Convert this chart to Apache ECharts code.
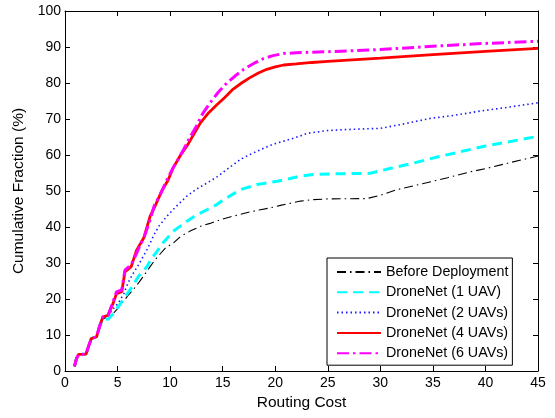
<!DOCTYPE html>
<html>
<head>
<meta charset="utf-8">
<script src="https://cdn.jsdelivr.net/npm/echarts@6/dist/echarts.min.js"></script>
<style>
  html, body { margin: 0; padding: 0; background: #fff; }
  #chart { width: 555px; height: 418px; }
</style>
</head>
<body>
<div id="chart"></div>
<script>
// legend names
var seriesNames = ['Before Deployment', 'DroneNet (1 UAV)', 'DroneNet (2 UAVs)', 'DroneNet (4 UAVs)', 'DroneNet (6 UAVs)'];

// [routing cost, cumulative fraction %]
var beforeData = [[0.9,1.3],[1.1,3.5],[1.3,4.6],[2.0,4.7],[2.2,6.5],[2.5,9],[3.0,9.5],[3.3,12.5],[3.6,14.5],
  [4.3,15.1],[4.9,17],[5.55,19.3],[6.0,21],[6.5,22.6],[7,24.5],[7.46,26.3],[8.1,29],[8.6,31],[9.05,32.5],
  [9.6,34.3],[10.3,35.5],[11,37.4],[12,39],[12.9,40.2],[13.8,41],[14.8,42],[15.7,42.8],[16.7,43.5],
  [17.6,44.2],[18.6,44.8],[19.5,45.3],[20.5,46],[22.4,47.2],[23.6,47.6],[25,47.8],[28.7,47.9],[30,48.8],
  [31.6,50.4],[34,52],[36.4,53.7],[38.5,55.3],[40,56.2],[42.5,58],[45,59.7]];

var uav1Data = [[0.9,1.3],[1.1,3.5],[1.3,4.6],[2.0,4.7],[2.2,6.5],[2.5,9],[3.0,9.5],[3.3,12.5],[3.6,14.5],
  [4.1,14.4],[4.6,16],[5.2,18.4],[5.7,20.5],[6.2,22.6],[7,26.3],[7.8,29],[8.25,31.4],[8.7,33],[9.3,35.5],
  [10.3,38.8],[11.6,41.6],[12.5,43.3],[13.5,44.8],[14.3,46],[15.1,47.6],[15.9,49],[16.7,50.4],[18.3,51.8],
  [20.2,52.7],[22.4,54.1],[23.6,54.6],[26,54.8],[29,54.9],[31,56.3],[33.2,57.8],[35.5,59.5],[37.9,61.1],
  [40,62.5],[42.5,63.8],[45,65.2]];

var uav2Data = [[0.9,1.3],[1.1,3.5],[1.3,4.6],[2.0,4.7],[2.2,6.5],[2.5,9],[3.0,9.5],[3.3,12.5],[3.6,15],
  [4.1,15.5],[4.8,18],[5.1,19],[5.6,21.5],[6,24.5],[6.4,26.7],[7,29.5],[7.8,33.7],[8.5,38],[9.0,40.5],
  [9.7,43],[10.5,45.5],[11.6,48.6],[12.5,50.5],[13.5,52.2],[14.5,54],[15.4,56],[16.7,58.8],[17.5,60],
  [18.3,61.1],[19.8,63],[21,64],[22.4,65.3],[23,66],[25,66.8],[27,67.1],[30,67.4],[32,68.5],[34.8,70.2],
  [37,71],[39.5,72.2],[42,73.2],[45,74.5]];

var uav4Data = [[0.9,1.3],[1.1,3.5],[1.3,4.6],[2.0,4.7],[2.2,6.5],[2.5,9],[3.0,9.5],[3.3,12.5],[3.6,15],
  [4.1,15.5],[4.6,19],[4.9,21.5],[5.4,22],[5.7,27.5],[6.3,29],[6.8,33.5],[7.5,37],[8.1,43],[8.6,46],
  [9.2,50],[9.8,53],[10.3,56.5],[11,60],[11.6,62.5],[12.3,66],[12.9,69],[13.6,71.5],[14.4,73.8],[15.2,76],
  [16,78.3],[16.8,80],[17.6,81.5],[18.4,82.8],[19.2,83.8],[20,84.5],[20.8,85],[22,85.3],[23.5,85.7],
  [25,86],[30,86.9],[35,87.9],[40,88.8],[45,89.6]];

var uav6Data = [[0.9,1.3],[1.1,3.5],[1.3,4.6],[2.0,4.7],[2.2,6.5],[2.5,9],[3.0,9.5],[3.3,12.5],[3.6,15],
  [4.1,15.5],[4.6,19.5],[4.9,22],[5.4,22.5],[5.7,28],[6.3,29.5],[6.7,32],[7.0,34],[7.5,37],[8.1,42],
  [8.5,46],[9,48.6],[9.6,52.5],[10.2,56],[10.8,59],[11.3,61.6],[11.9,65],[12.5,68],[13.1,71.5],[13.8,74.5],
  [14.6,77.5],[15.4,80],[16.2,82],[17,83.8],[18,85.5],[18.9,86.8],[19.8,87.6],[20.8,88.2],[22,88.4],
  [25,88.7],[30,89.3],[35,90.2],[40,91],[45,91.6]];

var seriesData = [beforeData, uav1Data, uav2Data, uav4Data, uav6Data];
var seriesColors = ['#000000', '#00ffff', '#1a1aff', '#ff0000', '#ff00ff'];
var seriesWidths = [1.1, 3, 1.6, 2.8, 3];
var seriesDash = [[9, 4, 1.5, 4], [10, 6], [1.5, 3], 'solid', [12, 4, 2.5, 4]];

var FONT = 'Liberation Sans';

var chart = echarts.init(document.getElementById('chart'), null, { renderer: 'canvas' });

var series = [];
for (var i = 0; i < seriesNames.length; i++) {
  series.push({
    name: seriesNames[i],
    type: 'line',
    data: seriesData[i],
    symbol: 'none',
    smooth: false,
    color: seriesColors[i],
    lineStyle: { color: seriesColors[i], width: seriesWidths[i], type: seriesDash[i] },
    animation: false
  });
}

function frameAxis(pos, isX) {
  var a = {
    type: 'value',
    position: pos,
    min: 0, max: isX ? 45 : 100, interval: isX ? 5 : 10,
    axisLine: { show: true, onZero: false, lineStyle: { color: '#000', width: 1 } },
    axisTick: { show: true, inside: true, length: 5, lineStyle: { color: '#000' } },
    axisLabel: { show: false },
    splitLine: { show: false }
  };
  return a;
}

var xBottom = frameAxis('bottom', true);
xBottom.axisLabel = { show: true, color: '#000', fontFamily: FONT, fontSize: 14, margin: 5 };
xBottom.name = 'Routing Cost';
xBottom.nameLocation = 'middle';
xBottom.nameGap = 22;
xBottom.nameTextStyle = { color: '#000', fontFamily: FONT, fontSize: 15.5 };

var yLeft = frameAxis('left', false);
yLeft.axisLabel = { show: true, color: '#000', fontFamily: FONT, fontSize: 14, margin: 4 };
yLeft.name = 'Cumulative Fraction (%)';
yLeft.nameLocation = 'middle';
yLeft.nameGap = 35;
yLeft.nameTextStyle = { color: '#000', fontFamily: FONT, fontSize: 15.5 };

chart.setOption({
  backgroundColor: '#fff',
  animation: false,
  grid: { left: 65, right: 17, top: 11, bottom: 47, containLabel: false },
  xAxis: [xBottom, frameAxis('top', true)],
  yAxis: [yLeft, frameAxis('right', false)],
  legend: {
    data: seriesNames,
    orient: 'vertical',
    left: 327, top: 258,
    padding: [7, 4, 5, 9],
    itemWidth: 44, itemHeight: 14, itemGap: 6.3,
    itemStyle: { opacity: 0 },
    borderColor: '#000', borderWidth: 1,
    backgroundColor: '#fff',
    textStyle: { color: '#000', fontFamily: FONT, fontSize: 14.3 }
  },
  series: series
});
</script>
</body>
</html>
